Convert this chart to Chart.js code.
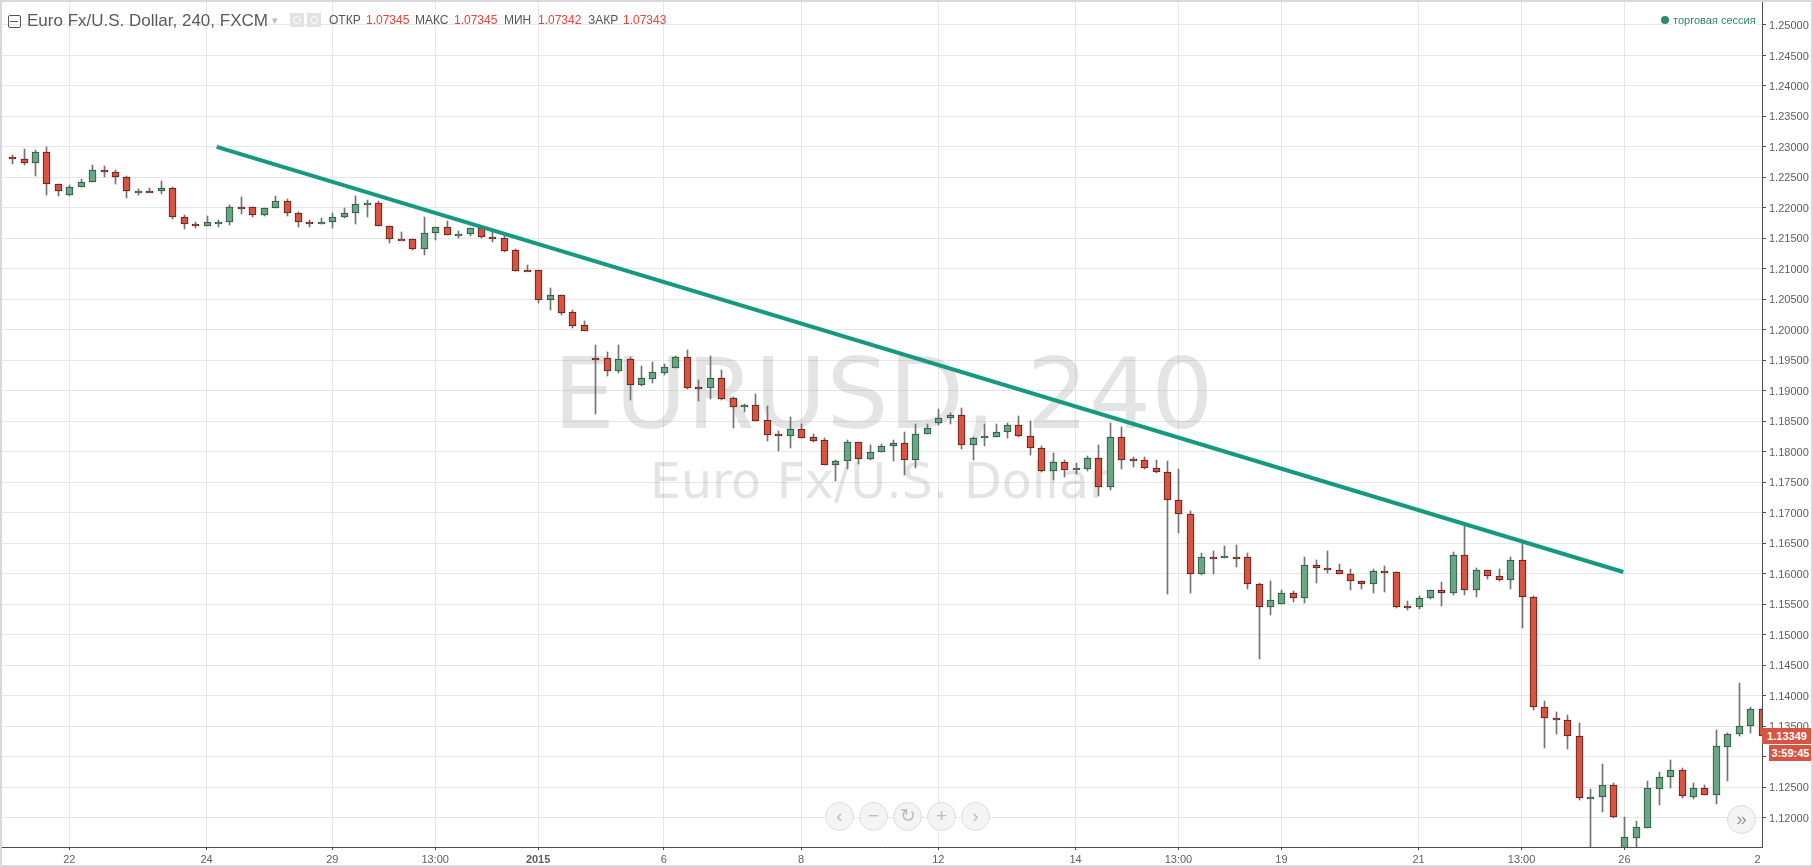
<!DOCTYPE html>
<html lang="ru">
<head>
<meta charset="utf-8">
<title>EURUSD, 240</title>
<script src="https://cdn.jsdelivr.net/npm/chart.js@4"></script>
<style>
    html, body { margin: 0; padding: 0; background: #fff; }
    #wrap { position: relative; width: 1813px; height: 867px; overflow: hidden; font-family: "Liberation Sans", Arial, sans-serif; }
    #chart { position: absolute; left: 0; top: 0; }
    #frame { position: absolute; inset: 0; border: 2px solid #d8d9e0; box-sizing: border-box; pointer-events: none; }
    .txt { position: absolute; white-space: nowrap; line-height: 1; }
    .head { top: 14px; font-size: 12px; color: #555; }
    .val { color: #e0483c; }
    .tag { position: absolute; background: #d75442; color: #fff; font-weight: bold; font-size: 11px; text-align: center; }
    .btn { position: absolute; top: 802px; width: 27px; height: 27px; border-radius: 50%; background: #f4f4f4; border: 1px solid #dcdcdc; color: #bdbdbd; font-size: 19px; line-height: 25px; text-align: center; }
    .ico { position: absolute; top: 13px; width: 14px; height: 14px; background: #e2e2e2; }
    .ico::after { content: ""; position: absolute; left: 3px; top: 3px; width: 6px; height: 6px; border: 1px solid #fff; border-radius: 50%; }
</style>
</head>
<body>
<div id="wrap">
    <canvas id="chart" width="1813" height="867"></canvas>

    <div style="position:absolute;left:8px;top:15px;width:11px;height:11px;border:1px solid #555;border-radius:2px;"></div>
    <div style="position:absolute;left:10px;top:21px;width:8px;height:1px;background:#555;"></div>
    <div class="txt" style="left:27px;top:12px;font-size:17px;color:#5b5b5b;">Euro Fx/U.S. Dollar, 240, FXCM</div>
    <div class="txt" style="left:272px;top:15px;font-size:11px;color:#bbb;">▾</div>
    <div class="ico" style="left:290px;"></div>
    <div class="ico" style="left:307px;"></div>
    <div class="txt head" style="left:329px;">ОТКР</div>
    <div class="txt head val" style="left:366px;">1.07345</div>
    <div class="txt head" style="left:415px;">МАКС</div>
    <div class="txt head val" style="left:454px;">1.07345</div>
    <div class="txt head" style="left:504px;">МИН</div>
    <div class="txt head val" style="left:538px;">1.07342</div>
    <div class="txt head" style="left:588px;">ЗАКР</div>
    <div class="txt head val" style="left:623px;">1.07343</div>

    <div style="position:absolute;left:1661px;top:16px;width:8px;height:8px;border-radius:50%;background:#2e8b5e;"></div>
    <div class="txt" style="left:1673px;top:15px;font-size:11px;color:#2e8b5e;background:#fff;">торговая сессия</div>

    <div class="tag" style="left:1762px;top:728px;width:50px;height:16px;line-height:16px;">1.13349</div>
    <div class="tag" style="left:1769px;top:745px;width:43px;height:16px;line-height:16px;">3:59:45</div>

    <div class="btn" style="left:825px;">‹</div>
    <div class="btn" style="left:859px;">−</div>
    <div class="btn" style="left:893px;">↻</div>
    <div class="btn" style="left:927px;">+</div>
    <div class="btn" style="left:961px;">›</div>
    <div class="btn" style="left:1727px;top:805px;color:#999;">»</div>

    <div id="frame"></div>
</div>

<script>
const opens = [
    1.22836, 1.22803, 1.22732, 1.22918, 1.22393, 1.22208, 1.22339, 1.22426, 1.22623, 1.22590,
    1.22508, 1.22273, 1.22279, 1.22273, 1.22328, 1.21847, 1.21738, 1.21699, 1.21765, 1.21765,
    1.22022, 1.22016, 1.21880, 1.21994, 1.22115, 1.21918, 1.21770, 1.21732, 1.21765, 1.21847,
    1.21913, 1.22060, 1.22082, 1.21705, 1.21497, 1.21492, 1.21322, 1.21585, 1.21689, 1.21552,
    1.21568, 1.21672, 1.21525, 1.21500, 1.21304, 1.20981, 1.20976, 1.20495, 1.20566, 1.20287,
    1.20074, 1.19539, 1.19534, 1.19331, 1.19517, 1.19102, 1.19200, 1.19298, 1.19381, 1.19550,
    1.19064, 1.19053, 1.19206, 1.18878, 1.18741, 1.18763, 1.18517, 1.18293, 1.18266, 1.18370,
    1.18239, 1.18189, 1.17791, 1.17852, 1.18169, 1.17885, 1.18005, 1.18098, 1.18153, 1.17869,
    1.18300, 1.18475, 1.18557, 1.18612, 1.18115, 1.18229, 1.18246, 1.18328, 1.18448, 1.18267,
    1.18071, 1.17688, 1.17841, 1.17705, 1.17721, 1.17907, 1.17426, 1.18251, 1.17880, 1.17874,
    1.17743, 1.17672, 1.17213, 1.16984, 1.15995, 1.16279, 1.16257, 1.16279, 1.16279, 1.15836,
    1.15454, 1.15508, 1.15689, 1.15601, 1.16148, 1.16098, 1.16066, 1.16000, 1.15885, 1.15831,
    1.16049, 1.16033, 1.15465, 1.15454, 1.15601, 1.15738, 1.15683, 1.16312, 1.15732, 1.16066,
    1.15967, 1.15896, 1.16229, 1.15615, 1.13812, 1.13631, 1.13599, 1.13336, 1.12315, 1.12337,
    1.12533, 1.11500, 1.11675, 1.11839, 1.12479, 1.12664, 1.12779, 1.12347, 1.12484, 1.12369,
    1.13167, 1.13369, 1.13500, 1.13779
];
const highs = [
    1.22874, 1.22973, 1.22956, 1.23000, 1.22393, 1.22377, 1.22475, 1.22710, 1.22694, 1.22623,
    1.22524, 1.22311, 1.22328, 1.22448, 1.22344, 1.21891, 1.21770, 1.21874, 1.21809, 1.22049,
    1.22186, 1.22016, 1.22000, 1.22202, 1.22147, 1.21934, 1.21803, 1.21836, 1.21918, 1.22000,
    1.22202, 1.22131, 1.22115, 1.21705, 1.21612, 1.21492, 1.21852, 1.21689, 1.21787, 1.21623,
    1.21672, 1.21672, 1.21601, 1.21566, 1.21320, 1.21063, 1.20976, 1.20681, 1.20566, 1.20326,
    1.20140, 1.19747, 1.19632, 1.19747, 1.19550, 1.19402, 1.19468, 1.19435, 1.19566, 1.19665,
    1.19173, 1.19566, 1.19337, 1.18894, 1.18779, 1.18943, 1.18747, 1.18337, 1.18566, 1.18452,
    1.18288, 1.18222, 1.17861, 1.18191, 1.18169, 1.18109, 1.18136, 1.18202, 1.18322, 1.18453,
    1.18453, 1.18699, 1.18634, 1.18716, 1.18251, 1.18453, 1.18453, 1.18481, 1.18595, 1.18513,
    1.18104, 1.17989, 1.17874, 1.17825, 1.17940, 1.18109, 1.18470, 1.18404, 1.17923, 1.17923,
    1.17874, 1.17852, 1.17721, 1.17033, 1.16344, 1.16377, 1.16459, 1.16475, 1.16344, 1.15852,
    1.15885, 1.15738, 1.15721, 1.16279, 1.16229, 1.16377, 1.16164, 1.16082, 1.15885, 1.16082,
    1.16131, 1.16033, 1.15557, 1.15639, 1.15738, 1.15869, 1.16361, 1.16787, 1.16098, 1.16066,
    1.16082, 1.16279, 1.16508, 1.15637, 1.13916, 1.13730, 1.13681, 1.13549, 1.12468, 1.12883,
    1.12566, 1.12014, 1.11943, 1.12599, 1.12746, 1.12948, 1.12812, 1.12566, 1.12533, 1.13435,
    1.13386, 1.14205, 1.13812, 1.13812
];
const lows = [
    1.22727, 1.22699, 1.22530, 1.22208, 1.22191, 1.22191, 1.22339, 1.22426, 1.22503, 1.22399,
    1.22158, 1.22208, 1.22257, 1.22224, 1.21814, 1.21650, 1.21667, 1.21699, 1.21683, 1.21716,
    1.21896, 1.21847, 1.21863, 1.21994, 1.21863, 1.21683, 1.21683, 1.21732, 1.21667, 1.21831,
    1.21732, 1.21847, 1.21699, 1.21421, 1.21486, 1.21306, 1.21235, 1.21470, 1.21552, 1.21503,
    1.21536, 1.21503, 1.21437, 1.21282, 1.20970, 1.20970, 1.20446, 1.20331, 1.20249, 1.20036,
    1.19976, 1.18626, 1.19249, 1.19298, 1.18856, 1.19085, 1.19135, 1.19266, 1.19381, 1.19036,
    1.18840, 1.18872, 1.18856, 1.18397, 1.18659, 1.18512, 1.18184, 1.18020, 1.18069, 1.18233,
    1.18167, 1.17791, 1.17528, 1.17721, 1.17803, 1.17869, 1.18005, 1.17852, 1.17623, 1.17737,
    1.18300, 1.18448, 1.18459, 1.18049, 1.17869, 1.18098, 1.18246, 1.18229, 1.18246, 1.17951,
    1.17672, 1.17541, 1.17590, 1.17639, 1.17688, 1.17279, 1.17377, 1.17721, 1.17754, 1.17721,
    1.17656, 1.15667, 1.16667, 1.15683, 1.15978, 1.15995, 1.16257, 1.16109, 1.15749, 1.14601,
    1.15322, 1.15508, 1.15536, 1.15519, 1.15847, 1.16011, 1.15995, 1.15732, 1.15749, 1.15683,
    1.15699, 1.15437, 1.15404, 1.15421, 1.15585, 1.15470, 1.15650, 1.15650, 1.15618, 1.15913,
    1.15880, 1.15749, 1.15109, 1.13763, 1.13151, 1.13380, 1.13134, 1.12298, 1.11450, 1.12102,
    1.12003, 1.11480, 1.11528, 1.11839, 1.12216, 1.12495, 1.12320, 1.12315, 1.12369, 1.12233,
    1.12610, 1.13336, 1.13396, 1.13336
];
const closes = [
    1.22798, 1.22732, 1.22918, 1.22388, 1.22273, 1.22344, 1.22426, 1.22623, 1.22585, 1.22503,
    1.22273, 1.22284, 1.22268, 1.22328, 1.21847, 1.21732, 1.21699, 1.21770, 1.21776, 1.22016,
    1.22011, 1.21880, 1.22000, 1.22115, 1.21913, 1.21765, 1.21732, 1.21770, 1.21852, 1.21918,
    1.22066, 1.22082, 1.21699, 1.21486, 1.21486, 1.21322, 1.21590, 1.21689, 1.21552, 1.21574,
    1.21672, 1.21519, 1.21503, 1.21298, 1.20970, 1.20970, 1.20495, 1.20566, 1.20282, 1.20069,
    1.19976, 1.19528, 1.19331, 1.19517, 1.19102, 1.19206, 1.19304, 1.19386, 1.19550, 1.19053,
    1.19053, 1.19206, 1.18872, 1.18741, 1.18768, 1.18512, 1.18282, 1.18266, 1.18370, 1.18233,
    1.18184, 1.17791, 1.17845, 1.18169, 1.17885, 1.18005, 1.18104, 1.18153, 1.17869, 1.18300,
    1.18399, 1.18563, 1.18612, 1.18115, 1.18235, 1.18257, 1.18333, 1.18448, 1.18262, 1.18065,
    1.17688, 1.17841, 1.17705, 1.17727, 1.17907, 1.17426, 1.18251, 1.17869, 1.17869, 1.17737,
    1.17672, 1.17208, 1.16978, 1.15995, 1.16279, 1.16257, 1.16284, 1.16268, 1.15831, 1.15454,
    1.15574, 1.15689, 1.15601, 1.16148, 1.16093, 1.16060, 1.15995, 1.15880, 1.15831, 1.16049,
    1.16027, 1.15454, 1.15454, 1.15607, 1.15738, 1.15683, 1.16312, 1.15732, 1.16066, 1.15962,
    1.15896, 1.16229, 1.15618, 1.13812, 1.13631, 1.13599, 1.13336, 1.12320, 1.12337, 1.12533,
    1.12020, 1.11681, 1.11845, 1.12484, 1.12664, 1.12779, 1.12353, 1.12484, 1.12369, 1.13172,
    1.13369, 1.13500, 1.13779, 1.13336
];

const xTickPositions = [5, 17, 28, 37, 46, 57, 69, 81, 93, 102, 111, 123, 132, 141, 152.65];
const xTickLabels = ['22', '24', '29', '13:00', '2015', '6', '8', '12', '14', '13:00', '19', '21', '13:00', '26', '2'];
const yTickValues = [
    1.25, 1.245, 1.24, 1.235, 1.23, 1.225, 1.22, 1.215, 1.21, 1.205, 1.2, 1.195, 1.19, 1.185,
    1.18, 1.175, 1.17, 1.165, 1.16, 1.155, 1.15, 1.145, 1.14, 1.135, 1.13, 1.125, 1.12
];
const trendX = [17.89, 140.9];
const trendY = [1.23, 1.1603];

const colors = {
    upBody: '#6ba583',
    upBorder: '#225437',
    downBody: '#d75442',
    downBorder: '#5b1a13',
    wick: '#737375',
    trend: '#159980',
    grid: '#e6e6e6',
    axis: '#4c4c4c',
    label: '#5e5e5e',
};

const watermark = {
    id: 'watermark',
    beforeDatasetsDraw(chart) {
        const { ctx } = chart;
        ctx.save();
        ctx.fillStyle = 'rgba(120, 120, 120, 0.2)';
        ctx.textAlign = 'left';
        ctx.textBaseline = 'alphabetic';
        ctx.font = '98px "DejaVu Sans"';
        ctx.fillText('EURUSD, 240', 553, 428);
        ctx.font = '49px "DejaVu Sans"';
        ctx.fillText('Euro Fx/U.S. Dollar', 650, 498);
        ctx.restore();
    },
};

// the candles are crisp in the reference, so snap bars to whole pixels
const snapBars = {
    id: 'snapBars',
    afterDatasetsUpdate(chart) {
        chart.getSortedVisibleDatasetMetas().forEach((meta) => {
            if (meta.type !== 'bar') {
                return;
            }
            meta.data.forEach((bar) => {
                bar.x = Math.round(bar.x) + 0.5;
                bar.y = Math.round(bar.y);
                bar.base = Math.round(bar.base);
                // dojis still need a visible line
                if (meta.order === 1 && Math.abs(bar.y - bar.base) < 2) {
                    bar.base = bar.y + 2;
                }
            });
        });
    },
};

const isUp = (i) => closes[i] >= opens[i];
// the last date label sits next to the axis line and has no grid line of its own
const xGridColor = (color) => (ctx) => (ctx.index === xTickPositions.length - 1 ? 'transparent' : color);

new Chart(document.getElementById('chart'), {
    type: 'bar',
    data: {
        datasets: [
            {
                type: 'line',
                data: trendX.map((x, i) => ({ x, y: trendY[i] })),
                borderColor: colors.trend,
                borderWidth: 4,
                pointRadius: 0,
                order: 0,
                clip: 0,
            },
            {
                data: opens.map((open, i) => ({ x: i, y: [open, closes[i]] })),
                backgroundColor: opens.map((_, i) => (isUp(i) ? colors.upBody : colors.downBody)),
                borderColor: opens.map((_, i) => (isUp(i) ? colors.upBorder : colors.downBorder)),
                borderWidth: 1,
                borderSkipped: false,
                barThickness: 7,
                grouped: false,
                order: 1,
                clip: 0,
            },
            {
                data: lows.map((low, i) => ({ x: i, y: [low, highs[i]] })),
                backgroundColor: colors.wick,
                borderWidth: 0,
                barThickness: 1,
                grouped: false,
                order: 2,
                clip: 0,
            },
        ],
    },
    options: {
        responsive: false,
        animation: false,
        events: [],
        layout: { autoPadding: false, padding: { left: 2, top: 2, right: 0, bottom: 0 } },
        plugins: { legend: { display: false }, tooltip: { enabled: false } },
        scales: {
            x: {
                type: 'linear',
                min: -0.885,
                max: 153.03,
                offset: false,
                afterFit(scale) {
                    scale.height = 20;
                    scale.paddingLeft = 0;
                    scale.paddingRight = 0;
                },
                afterBuildTicks(scale) { scale.ticks = xTickPositions.map((value) => ({ value })); },
                grid: { offset: false, color: xGridColor(colors.grid), tickColor: xGridColor(colors.axis), tickLength: 3 },
                border: { color: colors.axis },
                ticks: {
                    autoSkip: false,
                    maxRotation: 0,
                    padding: 3,
                    color: colors.label,
                    font: (ctx) => ({
                        family: '"Liberation Sans"',
                        size: 11,
                        weight: xTickLabels[ctx.index] === '2015' ? 'bold' : 'normal',
                    }),
                    callback: (value, index) => xTickLabels[index],
                },
            },
            y: {
                type: 'linear',
                position: 'right',
                min: 1.1152,
                max: 1.25377,
                afterFit(scale) {
                    scale.width = 51;
                    scale.paddingTop = 0;
                    scale.paddingBottom = 0;
                },
                afterBuildTicks(scale) { scale.ticks = yTickValues.map((value) => ({ value })); },
                grid: { color: colors.grid, tickColor: colors.axis, tickLength: 4 },
                border: { color: colors.axis },
                ticks: {
                    autoSkip: false,
                    padding: 3,
                    labelOffset: 1,
                    color: colors.label,
                    font: { family: '"Liberation Sans"', size: 11 },
                    callback: (value) => value.toFixed(5),
                },
            },
        },
    },
    plugins: [watermark, snapBars],
});
</script>
</body>
</html>
